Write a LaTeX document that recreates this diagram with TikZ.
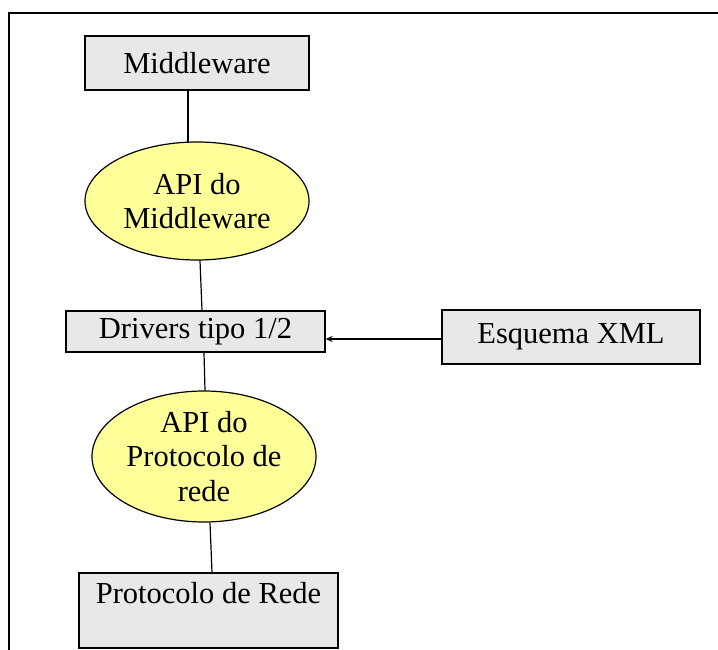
\documentclass[tikz,border=0pt]{standalone}
\usepackage{fontspec}
\setmainfont{Liberation Serif}
\usetikzlibrary{shapes.geometric,calc,arrows.meta}
\definecolor{boxgray}{HTML}{E8E8E8}
\definecolor{elyellow}{HTML}{FFFF99}
\begin{document}
\begin{tikzpicture}[x=1pt,y=-1pt,
  txt/.style={font=\fontsize{30.5}{34.5}\selectfont},
  gbox/.style={txt,draw=black,line width=1.2pt,fill=boxgray,rectangle,inner sep=0pt,align=center},
  apiell/.style={txt,draw=black,line width=1.2pt,fill=elyellow,ellipse,inner sep=0pt,align=center},
  link/.style={draw=black,line width=1.2pt}]
\useasboundingbox (0,0) rectangle (718,650);
\draw[line width=2pt] (9,651) -- (9,13) -- (719,13);
\node[gbox,minimum width=224pt,minimum height=54pt] (mw) at (197,63) {Middleware};
\node[apiell,minimum width=224pt,minimum height=118pt] (e1) at (197,201) {API do\\Middleware};
\node[gbox,minimum width=259pt,minimum height=41pt] (drv) at (195.5,331.5) {Drivers tipo 1/2};
\node[gbox,minimum width=258pt,minimum height=54pt] (xml) at (571,337) {Esquema XML};
\node[apiell,minimum width=224pt,minimum height=131pt] (e2) at (204,456.5) {API do\\Protocolo de\\rede};
\node[gbox,minimum width=259pt,minimum height=75pt] (prot) at (208.5,610.5) {Protocolo de Rede\\\mbox{}};
\draw[link] ($(mw.south)+(-9,0)$) -- ($(e1.north)+(-9,0.4)$);
\draw[link] ($(e1.south)+(3,0)$) -- ($(drv.north)+(6.5,0)$);
\draw[link] ($(drv.south)+(8.5,0)$) -- ($(e2.north)+(1,0)$);
\draw[link] ($(e2.south)+(6,0)$) -- ($(prot.north)+(3.5,0)$);
\draw[link,-{Stealth[length=7pt,width=6pt]}] ($(xml.west)+(0,2)$) -- ($(drv.east)+(0,7.5)$);
\end{tikzpicture}
\end{document}
